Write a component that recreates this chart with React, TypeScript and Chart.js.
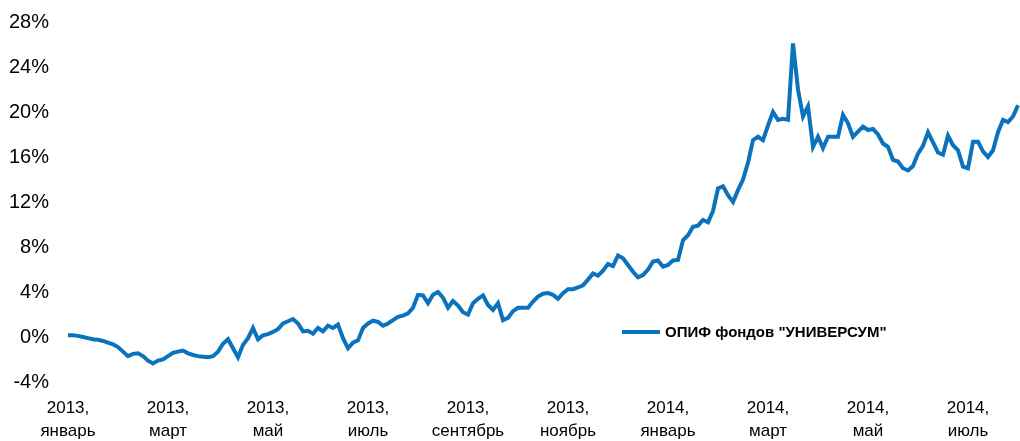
import React, { useEffect, useRef } from "react";
import { Chart, registerables } from "chart.js";

Chart.register(...registerables);

const seriesLabel = 'ОПИФ фондов "УНИВЕРСУМ"';

const tickLabels: string[][] = [
  ["2013,", "январь"],
  ["2013,", "март"],
  ["2013,", "май"],
  ["2013,", "июль"],
  ["2013,", "сентябрь"],
  ["2013,", "ноябрь"],
  ["2014,", "январь"],
  ["2014,", "март"],
  ["2014,", "май"],
  ["2014,", "июль"],
];

// points between consecutive labelled ticks (two months)
const pointsPerTick = 20;

const values2013H1: number[] = [
  0.15, 0.15, 0.1, 0.0, -0.1, -0.2, -0.25, -0.35, -0.5, -0.65,
  -0.9, -1.3, -1.7, -1.5, -1.45, -1.7, -2.1, -2.35, -2.1, -2.0,
  -1.7, -1.4, -1.3, -1.2, -1.45, -1.6, -1.7, -1.75, -1.8, -1.7,
  -1.3, -0.6, -0.2, -1.0, -1.8, -0.7, -0.1, 0.8, -0.2, 0.15,
  0.25, 0.45, 0.7, 1.2, 1.4, 1.6, 1.2, 0.5, 0.55, 0.3,
  0.8, 0.5, 1.0, 0.8, 1.1, -0.1, -1.0, -0.5, -0.3, 0.8,
];

const values2013H2: number[] = [
  1.2, 1.45, 1.35, 1.0, 1.2, 1.5, 1.8, 1.9, 2.1, 2.6,
  3.75, 3.7, 3.0, 3.75, 4.0, 3.5, 2.6, 3.2, 2.8, 2.2,
  2.0, 3.0, 3.4, 3.7, 2.85, 2.4, 3.0, 1.5, 1.7, 2.3,
  2.6, 2.6, 2.6, 3.15, 3.6, 3.85, 3.9, 3.75, 3.4, 3.9,
  4.25, 4.25, 4.4, 4.6, 5.1, 5.65, 5.45, 5.9, 6.5, 6.3,
  7.25, 7.0, 6.4, 5.8, 5.3, 5.5, 6.0, 6.7, 6.8, 6.25,
];

const values2014: number[] = [
  6.4, 6.8, 6.85, 8.6, 9.05, 9.8, 9.9, 10.4, 10.2, 11.2,
  13.2, 13.4, 12.6, 12.0, 13.05, 14.0, 15.5, 17.5, 17.8, 17.5,
  18.8, 20.0, 19.3, 19.4, 19.3, 26.1, 22.0, 19.6, 20.5, 16.9,
  17.8, 16.8, 17.8, 17.8, 17.8, 19.75, 19.0, 17.8, 18.25, 18.7,
  18.4, 18.5, 18.0, 17.2, 16.9, 15.75, 15.6, 15.0, 14.8, 15.2,
  16.3, 17.0, 18.2, 17.3, 16.4, 16.2, 17.9, 17.05, 16.6, 15.15,
  15.0, 17.35, 17.35, 16.5, 16.0, 16.6, 18.2, 19.3, 19.1, 19.6,
  20.6,
];

const values: number[] = [...values2013H1, ...values2013H2, ...values2014];
const categories: number[] = values.map((_, i) => i);

const lineColor = "#0b72bd";

const legendPlugin = {
  id: "insideLegend",
  afterDraw(chart: any) {
    const ctx = chart.ctx;
    const ds = chart.data.datasets[0];
    const x0 = 622;
    const y0 = 332;
    ctx.save();
    ctx.strokeStyle = ds.borderColor;
    ctx.lineWidth = 4;
    ctx.beginPath();
    ctx.moveTo(x0, y0);
    ctx.lineTo(x0 + 38, y0);
    ctx.stroke();
    ctx.fillStyle = "#000";
    ctx.font = "bold 15px 'Liberation Sans', Arial, sans-serif";
    ctx.textBaseline = "middle";
    ctx.textAlign = "left";
    ctx.fillText(ds.label, x0 + 43, y0 + 1);
    ctx.restore();
  },
};

export default function App() {
  const ref = useRef<HTMLCanvasElement | null>(null);
  useEffect(() => {
    if (!ref.current) return;
    const chart = new Chart(ref.current, {
      type: "line",
      data: {
        labels: categories,
        datasets: [
          {
            label: seriesLabel,
            data: values,
            borderColor: lineColor,
            backgroundColor: lineColor,
            borderWidth: 4,
            pointRadius: 0,
            tension: 0,
            fill: false,
          },
        ],
      },
      options: {
        animation: false,
        responsive: true,
        maintainAspectRatio: false,
        layout: { padding: { top: 22, right: 2, left: 0, bottom: 0 } },
        plugins: {
          legend: { display: false },
          tooltip: { enabled: false },
        },
        scales: {
          x: {
            type: "category",
            offset: false,
            grid: { display: false, drawTicks: false },
            border: { display: false },
            afterFit(scale: any) {
              scale.height = 59;
              scale.paddingLeft = 0;
              scale.paddingRight = 0;
            },
            ticks: {
              autoSkip: false,
              maxRotation: 0,
              minRotation: 0,
              padding: 14,
              color: "#000",
              font: { family: "'Liberation Sans', Arial, sans-serif", size: 17, lineHeight: 1.4 },
              callback: (_v: any, idx: number) =>
                idx % pointsPerTick === 0 && tickLabels[idx / pointsPerTick]
                  ? tickLabels[idx / pointsPerTick]
                  : "",
            },
          },
          y: {
            min: -4,
            max: 28,
            grid: { display: false, drawTicks: false },
            border: { display: false },
            afterFit(scale: any) {
              scale.width = 68;
              scale.paddingTop = 0;
              scale.paddingBottom = 0;
            },
            ticks: {
              stepSize: 4,
              padding: 19,
              color: "#000",
              font: { family: "'Liberation Sans', Arial, sans-serif", size: 20 },
              callback: (v: any) => v + "%",
            },
          },
        },
      },
      plugins: [legendPlugin],
    });
    return () => chart.destroy();
  }, []);
  return (
    <div style={{ position: "fixed", left: 0, top: 0, width: 1020, height: 441, background: "#fff" }}>
      <canvas ref={ref} />
    </div>
  );
}
